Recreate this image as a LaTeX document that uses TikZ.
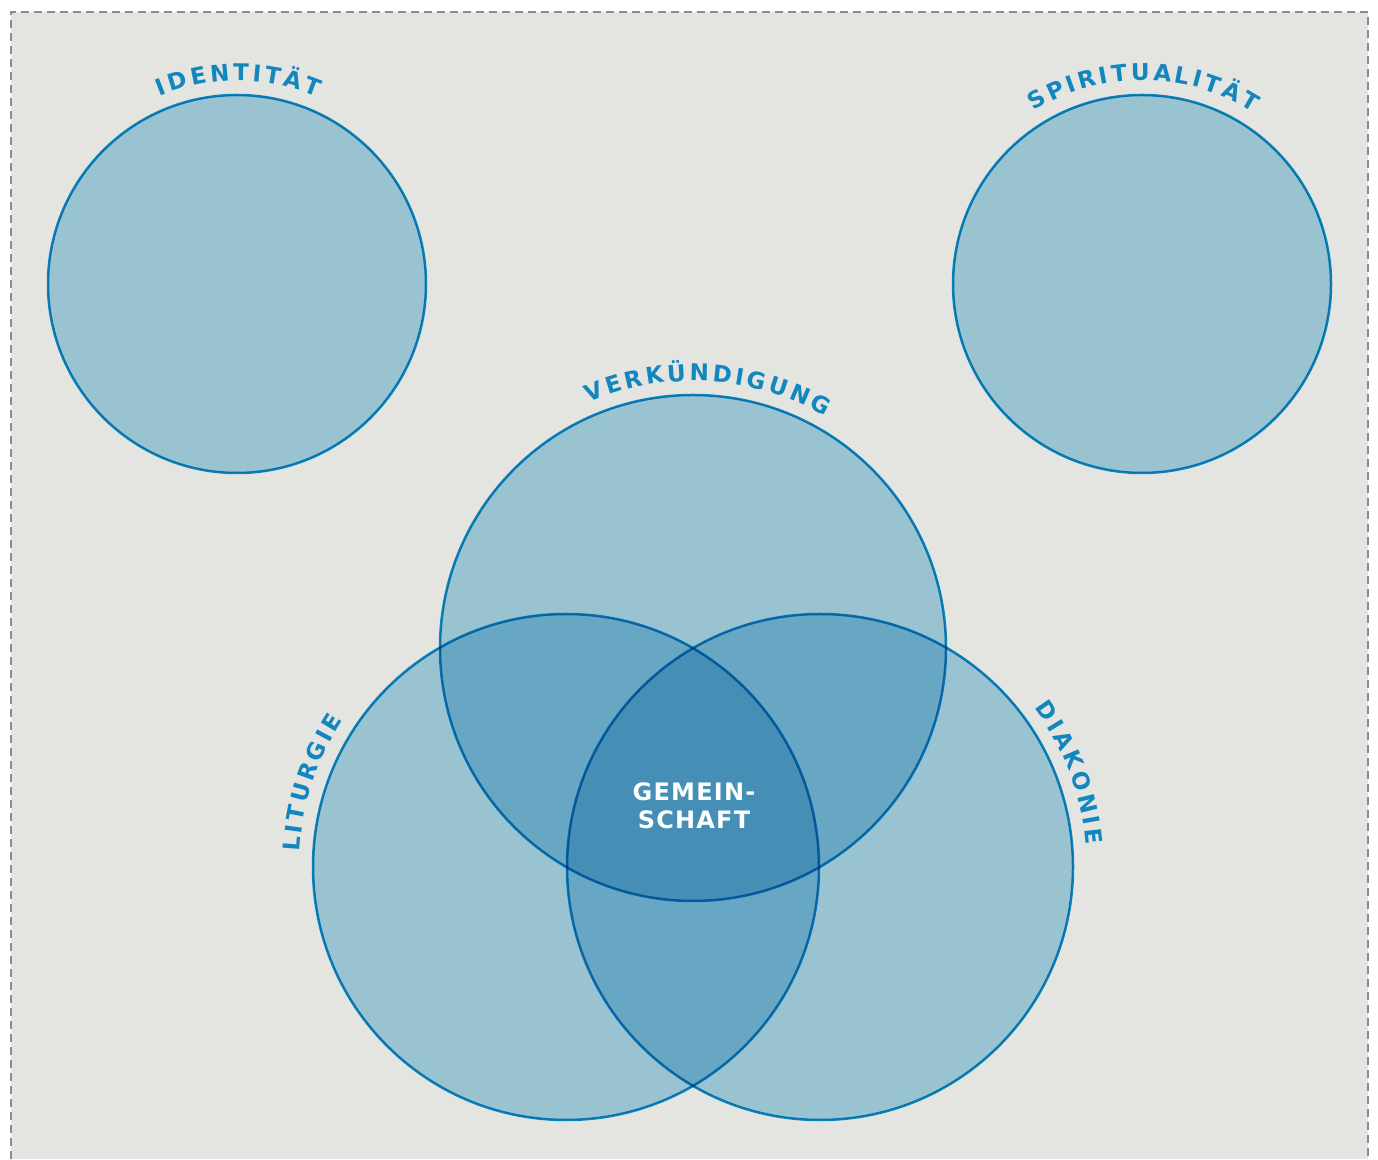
\documentclass[tikz,border=0pt]{standalone}
\usepackage{fontspec}
\usetikzlibrary{calc,decorations.text}
\newfontfamily\labelfont{DejaVu Sans}
\newfontfamily\centrefont{DejaVu Sans}[LetterSpace=5]
\definecolor{paper}{RGB}{228,228,224}
\definecolor{framegray}{RGB}{140,140,140}
\definecolor{bubblefill}{RGB}{172,219,239}
\definecolor{bubbleline}{RGB}{11,148,212}
\definecolor{labelblue}{RGB}{18,134,190}
\newcommand{\arclabelfont}{\labelfont\bfseries\fontsize{23}{27}\selectfont\color{labelblue}\kern3.2pt}
\begin{document}
\begin{tikzpicture}[x=1pt, y=1pt,
  bubble/.style={circle, inner sep=0pt, minimum size=#1, fill=bubblefill, draw=bubbleline, line width=2.5pt},
  arclabel/.style={decorate, decoration={text along path, text align=center, text={|\arclabelfont|#1}}}]
% Canvas and dashed frame
\useasboundingbox (0,0) rectangle (1378,1159);
\fill[white] (0,0) rectangle (1378,1159);
\fill[paper] (11,0) rectangle (1368,1147);
\draw[framegray, line width=2pt, dash pattern=on 8pt off 5pt] (11,0) -- (11,1147) -- (1368,1147) -- (1368,0);
% Circles (multiplied, so overlaps get darker)
\begin{scope}[blend mode=multiply]
\node[bubble=378pt] (identitaet) at (237,875) {};
\node[bubble=378pt] (spiritualitaet) at (1142,875) {};
\node[bubble=506pt] (verkuendigung) at (693,511) {};
\node[bubble=506pt] (liturgie) at (566,292) {};
\node[bubble=506pt] (diakonie) at (820,292) {};
\end{scope}
% Curved labels
\path[arclabel=IDENTITÄT] ($(identitaet.center)+(150:203pt)$) arc[start angle=150, end angle=30, radius=203pt];
\path[arclabel=SPIRITUALITÄT] ($(spiritualitaet.center)+(150:204pt)$) arc[start angle=150, end angle=30, radius=204pt];
\path[arclabel=VERKÜNDIGUNG] ($(verkuendigung.center)+(147:267pt)$) arc[start angle=147, end angle=27, radius=267pt];
\path[arclabel=LITURGIE] ($(liturgie.center)+(222:267pt)$) arc[start angle=222, end angle=102, radius=267pt];
\path[arclabel=DIAKONIE] ($(diakonie.center)+(81:267pt)$) arc[start angle=81, end angle=-39, radius=267pt];
% Centre text
\node[font=\centrefont\bfseries\fontsize{24}{28}\selectfont, text=white, align=center] (gemeinschaft) at (694,353) {GEMEIN-\\SCHAFT};
\end{tikzpicture}
\end{document}
